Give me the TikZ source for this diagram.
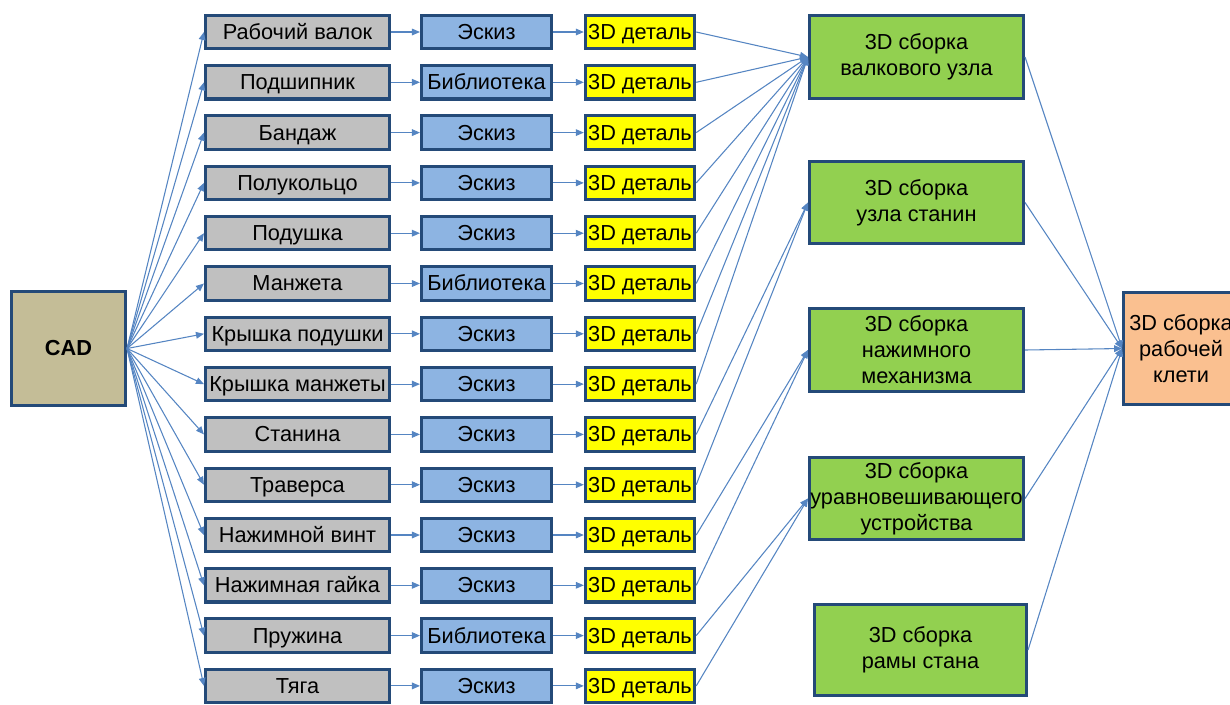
\documentclass[tikz,border=0pt]{standalone}
\usepackage{fontspec}
\setmainfont{Liberation Sans}
\usetikzlibrary{arrows.meta}
\definecolor{mlNavy}{HTML}{244A78}
\definecolor{mlLine}{HTML}{5585C2}
\definecolor{mlTan}{HTML}{C4BD97}
\definecolor{mlGray}{HTML}{C0C0C0}
\definecolor{mlBlue}{HTML}{8DB4E2}
\definecolor{mlYellow}{HTML}{FFFF00}
\definecolor{mlGreen}{HTML}{92D050}
\definecolor{mlPeach}{HTML}{FAC090}
\tikzset{
  ml box/.style={draw=mlNavy, line width=2.3pt, inner sep=0pt, align=center, font=\fontsize{16.3}{19.5}\selectfont},
  ml row/.style={ml box, text height=13pt, text depth=1.8pt},
  ml cad/.style={ml box, fill=mlTan, minimum width=85.5pt, minimum height=85.5pt, font=\fontsize{16.3}{18}\selectfont\bfseries},
  ml part/.style={ml row, fill=mlGray, minimum width=138pt, minimum height=25pt},
  ml src/.style={ml row, fill=mlBlue, minimum width=97.5pt, minimum height=25pt},
  ml detail/.style={ml row, fill=mlYellow, minimum width=82pt, minimum height=25pt},
  ml asm/.style={ml box, fill=mlGreen, minimum width=160.5pt, minimum height=62pt},
  ml stand/.style={ml box, fill=mlPeach, minimum width=86pt, minimum height=84pt},
  ml link/.style={draw=mlLine, line width=0.8pt, -{Triangle[length=6pt,width=5pt]}},
}

\begin{document}
\begin{tikzpicture}[x=0.75pt,y=-0.75pt]
  \useasboundingbox (0,0) rectangle (1230,704);
  \node[ml cad] (cad) at (68.5,348.5) {CAD};
  \node[ml asm] (a1) at (916.5,57) {3D сборка\\валкового узла};
  \node[ml asm] (a2) at (916.5,202.5) {3D сборка\\узла станин};
  \node[ml asm] (a3) at (916.5,350) {3D сборка\\нажимного\\механизма};
  \node[ml asm] (a4) at (916.5,498.5) {3D сборка\\уравновешивающего\\устройства};
  \node[ml asm, minimum width=159pt, minimum height=68pt] (a5) at (920.5,650) {3D сборка\\рамы стана};
  \node[ml stand] (stand) at (1181,348.5) {3D сборка\\рабочей\\клети};
  \foreach \i/\part/\src/\asm in {
      1/Рабочий валок/Эскиз/1, 2/Подшипник/Библиотека/1, 3/Бандаж/Эскиз/1,
      4/Полукольцо/Эскиз/1, 5/Подушка/Эскиз/1, 6/Манжета/Библиотека/1,
      7/Крышка подушки/Эскиз/1, 8/Крышка манжеты/Эскиз/1, 9/Станина/Эскиз/2,
      10/Траверса/Эскиз/2, 11/Нажимной винт/Эскиз/3, 12/Нажимная гайка/Эскиз/3,
      13/Пружина/Библиотека/4, 14/Тяга/Эскиз/4} {
    \pgfmathsetmacro{\ry}{32+(\i-1)*50.3}
    \node[ml part] (p\i) at (297.5,\ry) {\part};
    \node[ml src] (s\i) at (486.5,\ry) {\src};
    \node[ml detail] (d\i) at (640,\ry) {3D деталь};
    \draw[ml link] (cad.east) -- (p\i.west);
    \draw[ml link] (p\i) -- (s\i);
    \draw[ml link] (s\i) -- (d\i);
    \draw[ml link] (d\i.east) -- (a\asm.west);
  }
  \foreach \k in {1,...,5}
    \draw[ml link] (a\k.east) -- (stand.west);
\end{tikzpicture}
\end{document}
